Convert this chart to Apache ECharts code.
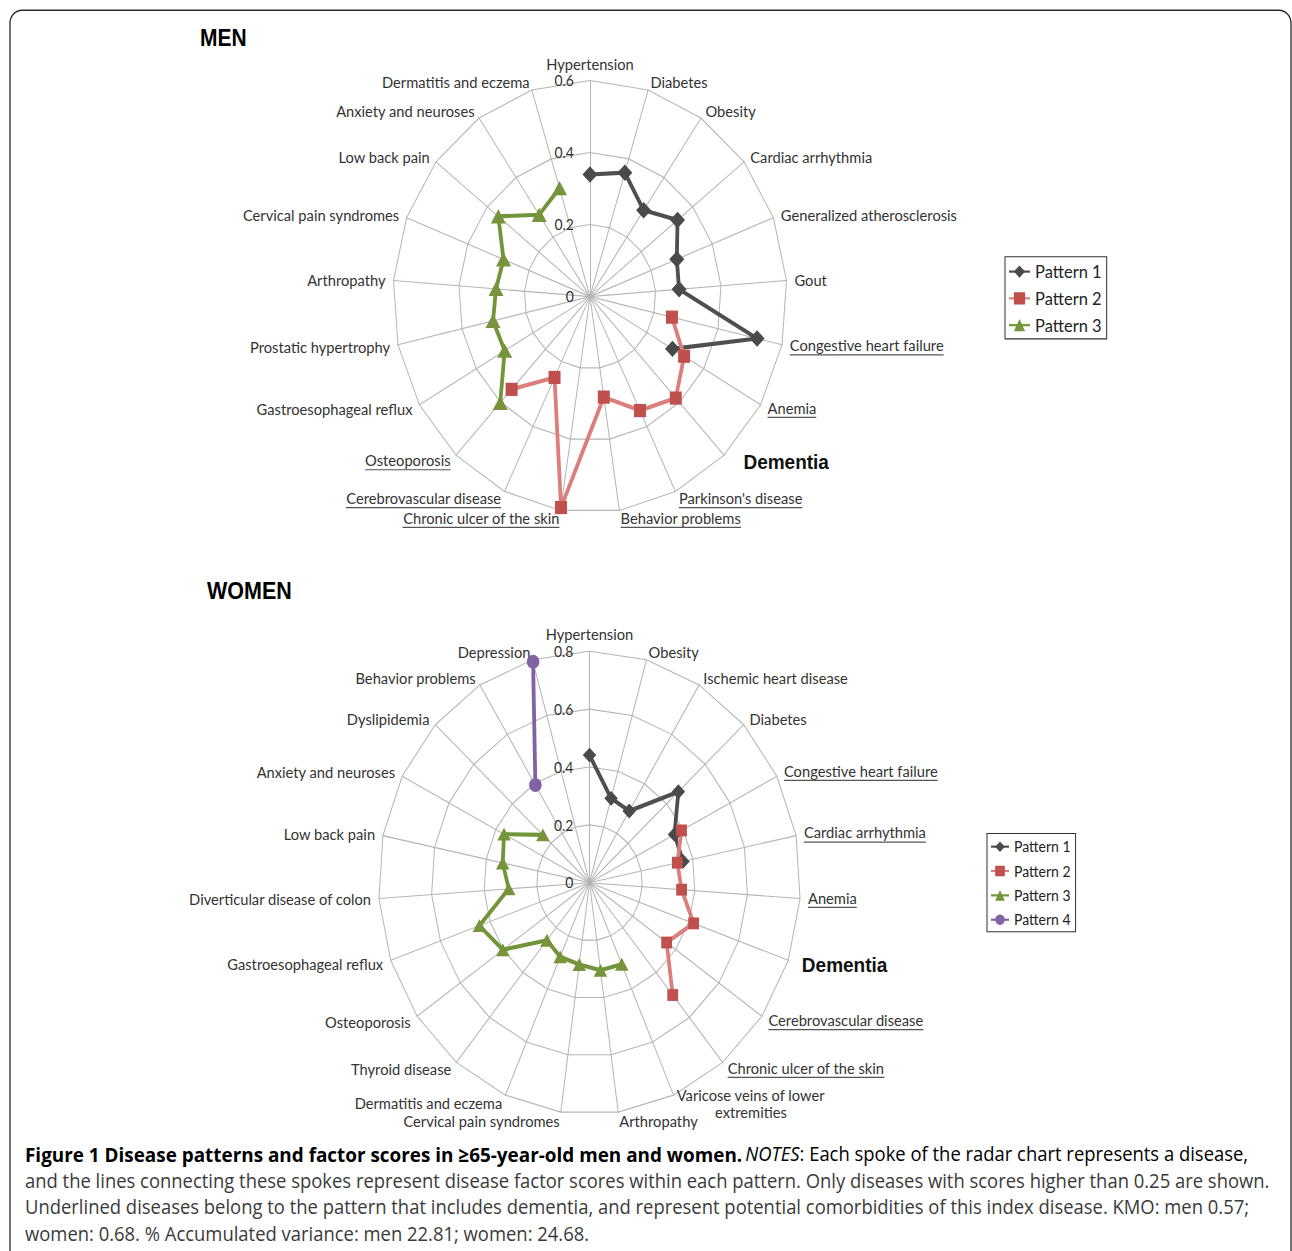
<!DOCTYPE html>
<html>
<head>
<meta charset="utf-8">
<script src="https://cdn.jsdelivr.net/npm/echarts@6/dist/echarts.min.js"></script>
<style>
html,body{margin:0;padding:0;background:#fff;overflow:hidden;width:1292px;height:1251px}
#chart{width:1292px;height:1140px;transform:scaleY(1.0974);transform-origin:0 0;}
</style>
</head>
<body>
<div id="chart"></div>
<script>
// ---------------- DATA ----------------
const menCategories = ['Hypertension','Diabetes','Obesity','Cardiac arrhythmia','Generalized atherosclerosis','Gout','Congestive heart failure','Anemia','Dementia',"Parkinson's disease",'Behavior problems','Chronic ulcer of the skin','Cerebrovascular disease','Osteoporosis','Gastroesophageal reflux','Prostatic hypertrophy','Arthropathy','Cervical pain syndromes','Low back pain','Anxiety and neuroses','Dermatitis and eczema'];
const menUnderlined = ['Congestive heart failure','Anemia',"Parkinson's disease",'Behavior problems','Chronic ulcer of the skin','Cerebrovascular disease','Osteoporosis'];
const menTickLabels = ['0','0.2','0.4','0.6'];
const menMax = 0.6;
const menPattern1 = [0.339,0.360,0.290,0.341,0.284,0.272,0.522,0.290,null,null,null,null,null,null,null,null,null,null,null,null,null];
const menPattern2 = [null,null,null,null,null,null,0.256,0.331,0.384,0.351,0.282,0.592,0.249,0.351,null,null,null,null,null,null,null];
const menPattern3 = [null,null,null,null,null,null,null,null,null,null,null,null,null,0.402,0.300,0.303,0.287,0.283,0.357,0.275,0.315];

const womenCategories = ['Hypertension','Obesity','Ischemic heart disease','Diabetes','Congestive heart failure','Cardiac arrhythmia','Anemia','Dementia','Cerebrovascular disease','Chronic ulcer of the skin','Varicose veins of lower extremities','Arthropathy','Cervical pain syndromes','Dermatitis and eczema','Thyroid disease','Osteoporosis','Gastroesophageal reflux','Diverticular disease of colon','Low back pain','Anxiety and neuroses','Dyslipidemia','Behavior problems','Depression'];
const womenUnderlined = ['Congestive heart failure','Cardiac arrhythmia','Anemia','Cerebrovascular disease','Chronic ulcer of the skin'];
const womenTickLabels = ['0','0.2','0.4','0.6','0.8'];
const womenMax = 0.8;
const womenPattern1 = [0.441,0.303,0.290,0.461,0.363,0.362,null,null,null,null,null,null,null,null,null,null,null,null,null,null,null,null,null];
const womenPattern2 = [null,null,null,null,0.393,0.340,0.350,0.419,0.358,0.500,null,null,null,null,null,null,null,null,null,null,null,null,null];
const womenPattern3 = [null,null,null,null,null,null,null,null,null,null,0.307,0.305,0.285,0.279,0.256,0.402,0.443,0.307,0.336,0.365,0.242,null,null];
const womenPattern4 = [null,null,null,null,null,null,null,null,null,null,null,null,null,null,null,null,null,null,null,null,null,0.395,0.793];

const patternNames = ['Pattern 1','Pattern 2','Pattern 3','Pattern 4'];
const lineBreaks = {'Varicose veins of lower extremities': ['Varicose veins of lower','extremities']};

const titleMen = 'MEN';
const titleWomen = 'WOMEN';
const captionBold = 'Figure 1 Disease patterns and factor scores in \u226565-year-old men and women.';
const captionItalic = 'NOTES';
const captionLines = [
  ': Each spoke of the radar chart represents a disease,',
  'and the lines connecting these spokes represent disease factor scores within each pattern. Only diseases with scores higher than 0.25 are shown.',
  'Underlined diseases belong to the pattern that includes dementia, and represent potential comorbidities of this index disease. KMO: men 0.57;',
  'women: 0.68. % Accumulated variance: men 22.81; women: 24.68.'
];

// ---------------- STYLE ----------------
const LABEL_FONT = 'Lato';
const LABEL_SIZE = 14.7;
const GRID = '#b5b5b5';
const styles = [
  {symbol:'diamond', size:[15,15], marker:'#4a4a4a', line:'#4f4f4f'},
  {symbol:'rect', size:[12,12], marker:'#c0504d', line:'#dc7f7c'},
  {symbol:'triangle', size:[15,13], marker:'#77933c', line:'#72953a'},
  {symbol:'circle', size:[14,14], marker:'#8064a2', line:'#8064a2'}
];

function nameFormatter(underlined){
  return function(name){
    if (name === 'Dementia') return '{d|' + name + '}';
    if (lineBreaks[name]) return '{n|' + lineBreaks[name][0] + '}\n{c|' + lineBreaks[name][1] + '}';
    if (underlined.indexOf(name) >= 0) return '{n|' + name + '}\n{u| }';
    return '{n|' + name + '}';
  };
}
function nameRich(dementiaPad){
  return {
    n:{fontFamily:LABEL_FONT, fontSize:LABEL_SIZE, color:'#333', lineHeight:15},
    c:{fontFamily:LABEL_FONT, fontSize:LABEL_SIZE, color:'#333', lineHeight:15, align:'center'},
    u:{fontFamily:LABEL_FONT, fontSize:2, width:'100%', height:1.1, lineHeight:3, backgroundColor:'#555'},
    d:{fontFamily:'Liberation Sans', fontSize:19, fontWeight:'bold', color:'#111', padding:dementiaPad}
  };
}
// ECharts radar lays indicators out counter-clockwise; the reference runs clockwise,
// so the indicator list keeps the first spoke and reverses the rest.
function clockwiseOrder(cats){ return [cats[0]].concat(cats.slice(1).reverse()); }

function makeRadar(center, radius, cats, max, ticks, underlined, dementiaPad){
  return {
    center: center, radius: radius, startAngle: 90, shape: 'polygon', splitNumber: ticks.length - 1,
    nameGap: 8,
    indicator: clockwiseOrder(cats).map(function(c, i){
      const o = {name: c, min: 0, max: max};
      if (i === 0) o.axisLabel = {show: true, formatter: function(v, idx){ return ticks[idx]; }};
      return o;
    }),
    axisName: {formatter: nameFormatter(underlined), rich: nameRich(dementiaPad), color:'#333', fontFamily: LABEL_FONT, fontSize: LABEL_SIZE},
    axisLine: {show: true, lineStyle: {color: GRID, width: 1}},
    splitLine: {show: true, lineStyle: {color: GRID, width: 1}},
    splitArea: {show: false},
    axisTick: {show: false},
    axisLabel: {show: false, color: '#333', fontFamily: LABEL_FONT, fontSize: 14, margin: 16}
  };
}

const menCenter = [590, 270.3], menRadius = 197;
const womenCenter = [589.5, 804.4], womenRadius = 211;

function lineSeries(name, idx, polarIndex, data, scale){
  const s = styles[idx];
  return {
    type:'line', name:name, coordinateSystem:'polar', polarIndex:polarIndex, data:data,
    symbol:s.symbol, symbolSize:[s.size[0]*scale, s.size[1]*scale], connectNulls:false,
    itemStyle:{color:s.marker, borderWidth:0}, lineStyle:{color:s.line, width:3.8},
    z:5, silent:true, animation:false, emphasis:{disabled:true}
  };
}

// caption scaling (fit the reference line width)
const CAP_FONT = 'Open Sans';
const CAP_SIZE = 18;
const mctx = document.createElement('canvas').getContext('2d');
mctx.font = CAP_SIZE + 'px "' + CAP_FONT + '"';
const capScale = 1245 / mctx.measureText(captionLines[1]).width;

const chart = echarts.init(document.getElementById('chart'), null, {renderer:'svg'});
const capRich = {
  b:{fontFamily:CAP_FONT, fontSize:18.45, fontWeight:'bold', color:'#111'},
  i:{fontFamily:CAP_FONT, fontSize:CAP_SIZE, fontStyle:'italic', color:'#3a3a3a'},
  n:{fontFamily:CAP_FONT, fontSize:CAP_SIZE, color:'#3a3a3a'}
};
const capY = [1051.5, 1075.8, 1099.6, 1124.0];

const option = {
  animation:false,
  backgroundColor:'#fff',
  radar:[
    makeRadar(menCenter, menRadius, menCategories, menMax, menTickLabels, menUnderlined, [0,0,0,14]),
    makeRadar(womenCenter, womenRadius, womenCategories, womenMax, womenTickLabels, womenUnderlined, [3,0,0,6])
  ],
  polar:[{center:menCenter, radius:menRadius},{center:womenCenter, radius:womenRadius}],
  angleAxis:[
    {polarIndex:0, type:'category', data:menCategories, startAngle:90, clockwise:true, boundaryGap:false, show:false, axisLine:{show:false}, axisLabel:{show:false}, axisTick:{show:false}, splitLine:{show:false}},
    {polarIndex:1, type:'category', data:womenCategories, startAngle:90, clockwise:true, boundaryGap:false, show:false, axisLine:{show:false}, axisLabel:{show:false}, axisTick:{show:false}, splitLine:{show:false}}
  ],
  radiusAxis:[
    {polarIndex:0, type:'value', min:0, max:menMax, show:false, axisLine:{show:false}, axisLabel:{show:false}, axisTick:{show:false}, splitLine:{show:false}},
    {polarIndex:1, type:'value', min:0, max:womenMax, show:false, axisLine:{show:false}, axisLabel:{show:false}, axisTick:{show:false}, splitLine:{show:false}}
  ],
  legend:[
    {data:patternNames.slice(0,3), orient:'vertical', left:1005, top:234, itemWidth:21, itemHeight:14, itemGap:7.4,
     borderColor:'#333', borderWidth:1, padding:[5,5,4,3], selectedMode:false,
     textStyle:{fontFamily:LABEL_FONT, fontSize:16.5, color:'#222'}},
    {data:patternNames.slice(0,4), orient:'vertical', left:987, top:759.5, itemWidth:18, itemHeight:12, itemGap:8.2,
     borderColor:'#333', borderWidth:1, padding:[5,5,4,3], selectedMode:false,
     textStyle:{fontFamily:LABEL_FONT, fontSize:14, color:'#222'}}
  ],
  series:[
    lineSeries(patternNames[0], 0, 0, menPattern1, 1),
    lineSeries(patternNames[1], 1, 0, menPattern2, 1),
    lineSeries(patternNames[2], 2, 0, menPattern3, 1),
    lineSeries(patternNames[0], 0, 1, womenPattern1, 0.9),
    lineSeries(patternNames[1], 1, 1, womenPattern2, 0.9),
    lineSeries(patternNames[2], 2, 1, womenPattern3, 0.9),
    lineSeries(patternNames[3], 3, 1, womenPattern4, 0.9)
  ],
  graphic:[
    {type:'rect', silent:true, shape:{x:10, y:9.3, width:1281, height:1200, r:[12,12,0,0]}, style:{fill:'none', stroke:'#2a2a2a', lineWidth:1.3}},
    {type:'text', silent:true, x:200, y:34.6, style:{text:titleMen, fontFamily:'Liberation Sans', fontWeight:'bold', fontSize:21, fill:'#000', verticalAlign:'middle'}},
    {type:'text', silent:true, x:207, y:538.5, style:{text:titleWomen, fontFamily:'Liberation Sans', fontWeight:'bold', fontSize:21.5, fill:'#000', verticalAlign:'middle'}},
    {type:'text', silent:true, x:25, y:capY[0], scaleX:capScale, style:{text:'{b|' + captionBold + '} {i|' + captionItalic + '}{n|' + captionLines[0] + '}', rich:capRich, verticalAlign:'middle'}},
    {type:'text', silent:true, x:25, y:capY[1], scaleX:capScale, style:{text:captionLines[1], fontFamily:CAP_FONT, fontSize:CAP_SIZE, fill:'#3a3a3a', verticalAlign:'middle'}},
    {type:'text', silent:true, x:25, y:capY[2], scaleX:capScale, style:{text:captionLines[2], fontFamily:CAP_FONT, fontSize:CAP_SIZE, fill:'#3a3a3a', verticalAlign:'middle'}},
    {type:'text', silent:true, x:25, y:capY[3], scaleX:capScale, style:{text:captionLines[3], fontFamily:CAP_FONT, fontSize:CAP_SIZE, fill:'#3a3a3a', verticalAlign:'middle'}}
  ]
};
chart.setOption(option);
</script>
</body>
</html>
